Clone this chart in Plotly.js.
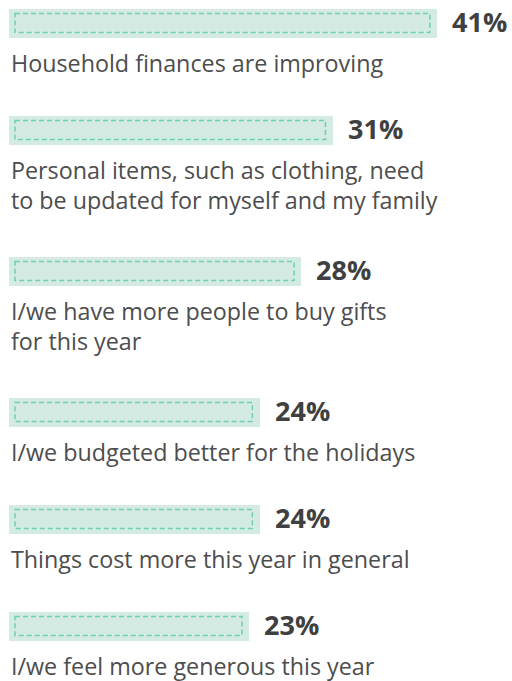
<!DOCTYPE html>
<html>
<head>
<meta charset="utf-8">
<script src="https://cdn.plot.ly/plotly-3.0.1.min.js"></script>
<style>
  html, body { margin: 0; padding: 0; background: #ffffff; }
  #chart { width: 512px; height: 681px; }
</style>
</head>
<body>
<div id="chart"></div>
<script>
// Reasons given for spending more on the holidays (share of respondents)
const reasons = [
  ["Household finances are improving"],
  ["Personal items, such as clothing, need", "to be updated for myself and my family"],
  ["I/we have more people to buy gifts", "for this year"],
  ["I/we budgeted better for the holidays"],
  ["Things cost more this year in general"],
  ["I/we feel more generous this year"]
];
const shares = [41, 31, 28, 24, 24, 23];
const shareLabels = ["41%", "31%", "28%", "24%", "24%", "23%"];

// Page geometry (pixels)
const W = 512, H = 681;
const marginLeft = 9;
const pxPerPoint = 10.44;               // horizontal scale: pixels per percentage point
const xMax = (W - marginLeft) / pxPerPoint;
const barThickness = 29;
const firstRow = 23;
const rowPitch = 107;                   // spacing for a one-line caption
const extraLine = 34;                   // extra spacing per additional caption line
const captionTop = 23;                  // bar centre to top of caption box
const captionSize = 23.3;

// Vertical row centres, derived from how many lines each caption has
const rowCentres = [];
reasons.forEach((lines, i) => {
  if (i === 0) { rowCentres.push(firstRow); return; }
  const prevLines = reasons[i - 1].length;
  rowCentres.push(rowCentres[i - 1] + rowPitch + extraLine * (prevLines - 1));
});

const barTrace = {
  type: "bar",
  orientation: "h",
  x: shares,
  y: rowCentres,
  width: barThickness,
  marker: { color: "#d3ebe2", line: { width: 0 } },
  hoverinfo: "skip"
};

// Dashed inner outline inside each bar
const inset = 6 / pxPerPoint;
const shapes = shares.map((v, i) => ({
  type: "rect",
  xref: "x", yref: "y",
  x0: inset, x1: v - inset * 1.2,
  y0: rowCentres[i] - 9.5, y1: rowCentres[i] + 9.5,
  line: { color: "#6dcfb8", width: 1.5, dash: "5px,3px" },
  fillcolor: "rgba(0,0,0,0)",
  layer: "above"
}));

const annotations = [];
shares.forEach((v, i) => {
  annotations.push({
    x: v, y: rowCentres[i] - 2,
    xref: "x", yref: "y",
    text: shareLabels[i],
    showarrow: false,
    xanchor: "left", yanchor: "middle",
    xshift: 13,
    font: { family: "Open Sans", size: 27, color: "#404040", weight: 700 }
  });
  annotations.push({
    x: 0, y: rowCentres[i] + captionTop,
    xref: "x", yref: "y",
    text: reasons[i].join("<br>"),
    showarrow: false,
    align: "left",
    xanchor: "left", yanchor: "top",
    xshift: 1,
    borderpad: 0,
    font: { family: "Open Sans", size: captionSize, color: "#4d4d4d" }
  });
});

const layout = {
  width: W, height: H,
  margin: { l: marginLeft, r: 0, t: 0, b: 0, pad: 0 },
  paper_bgcolor: "#ffffff",
  plot_bgcolor: "#ffffff",
  showlegend: false,
  bargap: 0,
  xaxis: { range: [0, xMax], visible: false, fixedrange: true },
  yaxis: { range: [H, 0], visible: false, fixedrange: true },
  shapes: shapes,
  annotations: annotations
};

Plotly.newPlot("chart", [barTrace], layout, { displayModeBar: false, staticPlot: true });
</script>
</body>
</html>
